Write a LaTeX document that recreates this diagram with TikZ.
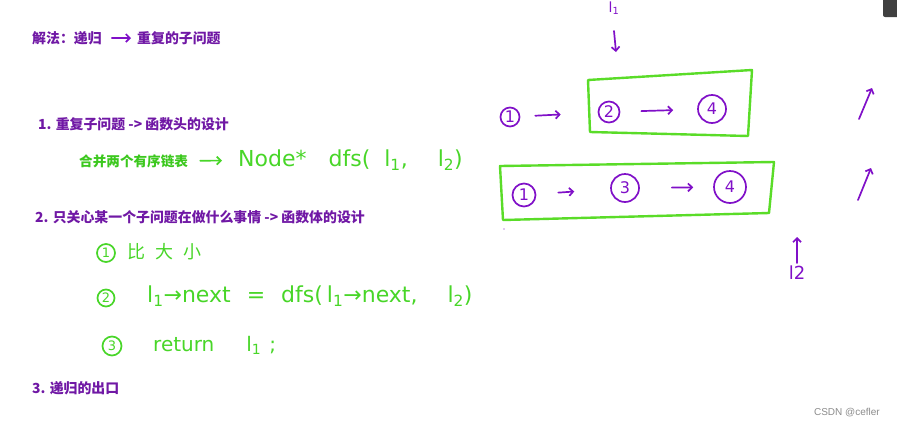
\documentclass[tikz,border=0pt]{standalone}
\usepackage{fontspec}
\usetikzlibrary{arrows.meta}
\setmainfont{Liberation Sans}
\newfontfamily\cjk{Noto Sans CJK SC}
\newfontfamily\hand{DejaVu Sans}
\definecolor{hp}{RGB}{112,24,165}
\definecolor{ip}{RGB}{128,16,200}
\definecolor{hg}{RGB}{60,200,30}
\definecolor{ig}{RGB}{72,214,40}
\definecolor{gbox}{RGB}{90,220,40}
\tikzset{
  head/.style={anchor=west, inner sep=0pt, text=hp, font=\cjk\bfseries\fontsize{13.9}{14}\selectfont},
  gcjk/.style={anchor=west, inner sep=0pt, text=hg, font=\cjk\bfseries\fontsize{13.6}{14}\selectfont},
  ghand/.style={anchor=west, inner sep=0pt, text=ig, font=\hand\fontsize{22}{22}\selectfont},
  gcjkhand/.style={anchor=west, inner sep=0pt, text=ig, font=\cjk\fontsize{18}{18}\selectfont},
  phand/.style={inner sep=0pt, text=ip, font=\hand\fontsize{18}{18}\selectfont},
  inkp/.style={draw=ip, line width=1.7pt, line cap=round, -{Straight Barb[length=4pt,width=8pt]}},
  inkg/.style={draw=ig, line width=1.7pt, line cap=round, -{Straight Barb[length=4pt,width=8pt]}},
  pnum/.style={circle, draw=ip, line width=1.7pt, inner sep=0pt, text=ip, font=\hand\fontsize{16}{16}\selectfont},
  gnum/.style={circle, draw=ig, line width=1.7pt, inner sep=0pt, minimum size=18pt, text=ig, font=\hand\fontsize{13}{13}\selectfont},
  greenbox/.style={draw=gbox, line width=2.4pt, line join=round},
}
\begin{document}
\begin{tikzpicture}[x=1pt,y=-1pt]
\clip (0,0) rectangle (897,429);
\fill[white] (0,0) rectangle (897,429);

% left column
\node[head] (jf) at (32,38) {解法：递归};
\node[head] (cf) at (137,38) {重复的子问题};
\draw[inkp, shorten <=10pt, shorten >=6pt] (jf) -- (cf);

\node[head] (h1) at (38,124) {1. 重复子问题 -> 函数头的设计};
\node[gcjk] (hb) at (79,161) {合并两个有序链表};
\node[ghand] (dfs) at (238,160) {Node*\hspace{22pt}dfs(\hspace{14pt}l\textsubscript{1},\hspace{30pt}l\textsubscript{2})};
\draw[inkg, shorten <=12pt, shorten >=16pt] (hb) -- (dfs);

\node[head] (h2) at (35,217) {2. 只关心某一个子问题在做什么事情 -> 函数体的设计};

\node[gnum] (c1) at (106,253) {1};
\node[gcjkhand] (bdx) at (127,252) {比\hspace{10pt}大\hspace{10pt}小};
\node[gnum, minimum size=17pt] (c2) at (106,298) {2};
\node[ghand] (l1n) at (147,296) {l\textsubscript{1}→next\hspace{16pt}=\hspace{16pt}dfs(\hspace{4pt}l\textsubscript{1}→next,\hspace{30pt}l\textsubscript{2})};
\node[gnum, minimum size=19pt] (c3) at (112,346) {3};
\node[ghand, font=\hand\fontsize{20}{20}\selectfont] (ret) at (153,345) {return\hspace{32pt}l\textsubscript{1}\hspace{8pt};};

\node[head] (h3) at (32,388) {3. 递归的出口};

% right side: linked lists
\node[phand, font=\hand\fontsize{14}{14}\selectfont] (la) at (614,8) {l\textsubscript{1}};
\coordinate (la1) at (614,31);
\coordinate (la2) at (616,52);
\draw[inkp] (la1) -- (la2);

\draw[greenbox] (588,80) -- (752,70) -- (748,136) -- (590,132) -- cycle;
\node[pnum, minimum size=19pt] (a1) at (510,117) {1};
\node[pnum, minimum size=21pt] (a2) at (609,112) {2};
\node[pnum, minimum size=28pt] (a4) at (712,109) {4};
\draw[inkp, shorten <=15pt, shorten >=37pt] (a1) -- (a2);
\draw[inkp, shorten <=21pt, shorten >=24pt] (a2) -- (a4);

\draw[greenbox] (500,166) -- (774,162) -- (769,213) -- (503,220) -- cycle;
\node[pnum, minimum size=23pt] (b1) at (524,195) {1};
\node[pnum, minimum size=28pt] (b3) at (625,188) {3};
\node[pnum, minimum size=32pt] (b4) at (730,187) {4};
\draw[inkp, shorten <=22pt, shorten >=36pt] (b1) -- (b3);
\draw[inkp, shorten <=32pt, shorten >=20pt] (b3) -- (b4);
\fill[ip] (504,229) circle (0.7pt);

\coordinate (u1a) at (859,119);
\coordinate (u1b) at (872,88);
\draw[inkp] (u1a) -- (u1b);
\coordinate (u2a) at (858,200);
\coordinate (u2b) at (871,168);
\draw[inkp] (u2a) -- (u2b);

\node[phand] (lb) at (797,273) {l2};
\coordinate (lbt) at (797,237);
\draw[inkp, shorten <=3pt] (lb.north) -- (lbt);

% corner widget and watermark
\fill[black!75, rounded corners=2pt] (883,-4) rectangle (900,17);
\node[anchor=east, inner sep=0pt, text=black!45, font=\fontsize{10}{10}\selectfont] (csdn) at (880,413) {CSDN @cefler};
\end{tikzpicture}
\end{document}
